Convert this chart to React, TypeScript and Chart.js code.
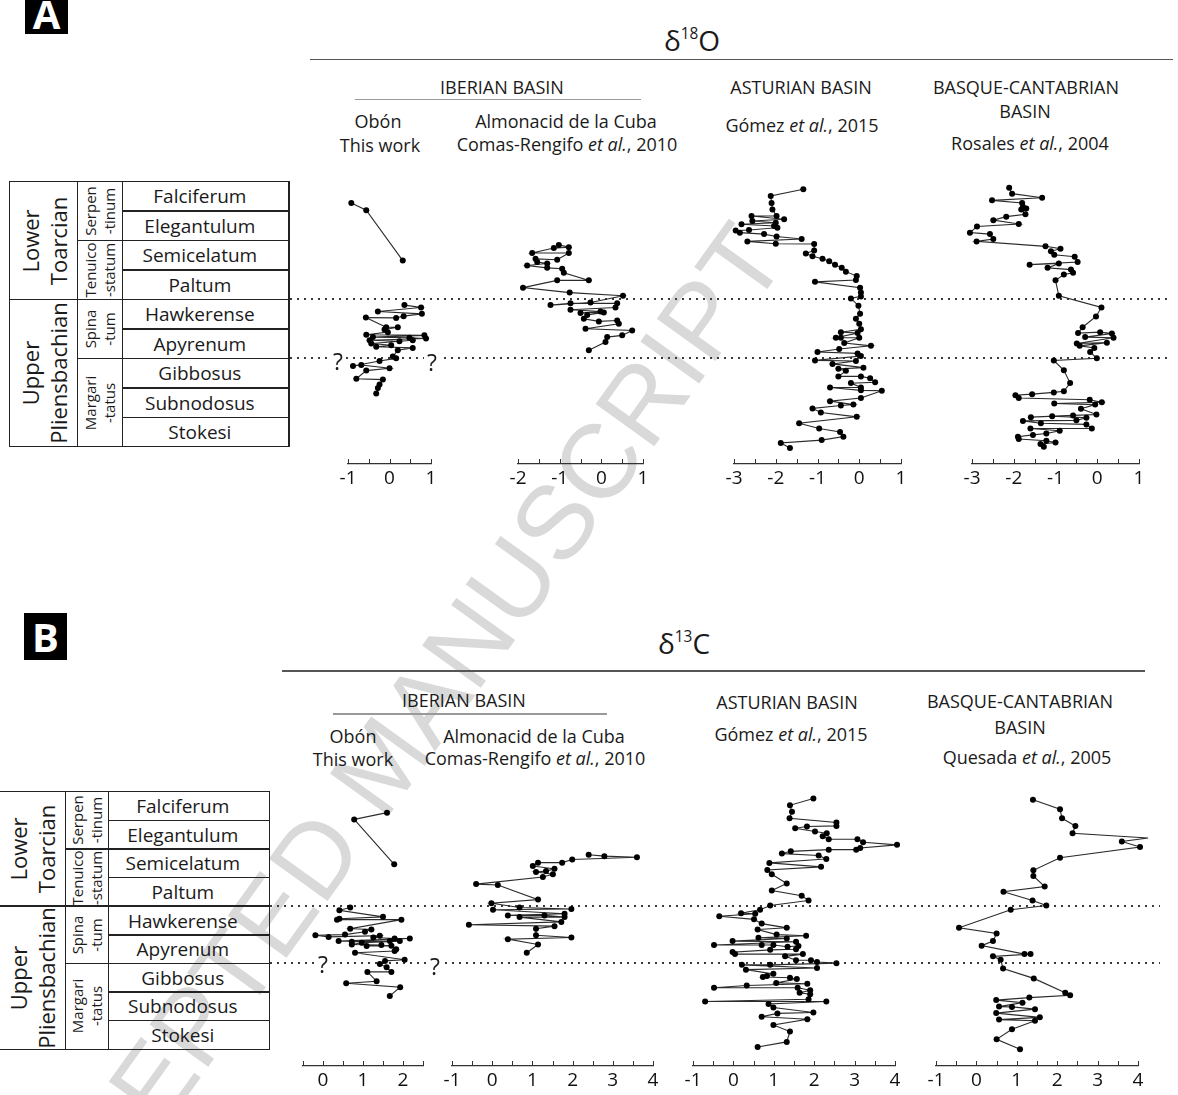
import React, { useEffect, useRef } from "react";
import { Chart, registerables } from "chart.js";

Chart.register(...registerables);

const FONT = "'Open Sans', 'Noto Sans', 'DejaVu Sans', sans-serif";

// ---------------- Data ----------------
const ZONES = ["Falciferum", "Elegantulum", "Semicelatum", "Paltum", "Hawkerense", "Apyrenum", "Gibbosus", "Subnodosus", "Stokesi"];
const SUBSTAGES = [["Serpen", "-tinum"], ["Tenuico", "-statum"], ["Spina", "-tum"], ["Margari", "-tatus"]];
const SUBSTAGE_ROWS = [[0, 2], [2, 4], [4, 6], [6, 9]];
const STAGES = [["Lower", "Toarcian"], ["Upper", "Pliensbachian"]];
const STAGE_ROWS = [[0, 4], [4, 9]];

// x-axis ranges (per mil)
const O18_OBON_RANGE = [-1, 1];
const O18_ALMONACID_RANGE = [-2, 1];
const O18_ASTURIAN_RANGE = [-3, 1];
const O18_BASQUE_RANGE = [-3, 1];
const C13_OBON_RANGE = [-0.5, 2.5];
const C13_ALMONACID_RANGE = [-1, 4];
const C13_ASTURIAN_RANGE = [-1, 4];
const C13_BASQUE_RANGE = [-1, 4];
const TICK_STEP = 0.5;

// y values are stratigraphic positions in zone units (0 = base of Stokesi, 9 = top of Falciferum)
// ---- delta 18O ----
const obonO18TopX = [-0.92, -0.56, 0.32];
const obonO18TopY = [8.4, 8.15, 6.42];
const obonO18X = [0.36, 0.76, -0.28, 0.78, 0.34, 0.16, -0.57, -0.08, 0.2, -0.12, -0.04, -0.56, 0.84, -0.4, 0.48, 0.88, -0.48, 0.24, 0.56, -0.44, 0.04, -0.32, 0.56, 0.2, 0.08, 0.16, -0.24, -0.88, -0.68, 0, -0.56, -0.8, -0.16, -0.24, -0.28, -0.32];
const obonO18Y = [4.89, 4.81, 4.67, 4.59, 4.51, 4.45, 4.46, 4.13, 4.13, 4.05, 3.96, 3.87, 3.85, 3.79, 3.77, 3.74, 3.68, 3.65, 3.68, 3.57, 3.51, 3.46, 3.42, 3.34, 3.12, 3.06, 2.97, 2.8, 2.83, 2.72, 2.64, 2.36, 2.33, 2.16, 2.04, 1.85];

const almonacidO18X = [-1.02, -0.78, -1.14, -1.66, -0.78, -1.06, -1.58, -1.54, -1.3, -1.78, -1.3, -0.94, -0.9, -0.3, -1.06, -1.88, -0.76, 0.52, -0.26, -1.22, -0.74, 0.38, 0.34, -0.74, -0.02, -0.5, 0.06, -0.34, -0.42, -0.06, 0.38, 0.42, -0.38, 0.74, 0.5, 0.14, 0.1, -0.3];
const almonacidO18Y = [6.96, 6.88, 6.85, 6.68, 6.68, 6.45, 6.48, 6.37, 6.32, 6.25, 6.17, 6.14, 6.0, 5.74, 5.74, 5.49, 5.32, 5.21, 4.98, 4.89, 4.95, 4.95, 4.81, 4.73, 4.67, 4.62, 4.64, 4.55, 4.42, 4.33, 4.36, 4.25, 4.08, 4.02, 3.85, 3.79, 3.62, 3.34];

const asturianO18X = [-1.34, -2.12, -2.1, -2.08, -1.98, -2.58, -1.8, -2.56, -2.0, -2.82, -2.04, -1.96, -2.64, -2.96, -2.86, -2.28, -1.98, -1.38, -2.68, -2.0, -1.08, -1.08, -1.28, -1.12, -0.88, -0.72, -0.58, -0.42, -0.32, -0.06, -0.08, -1.06, 0.02, 0.04, 0.04, -0.2, -0.02, 0.02, -0.08, 0.0, 0.04, -0.44, -0.04, -0.56, -0.44, 0.0, -0.36, 0.28, -0.48, -1.0, -0.04, 0.04, -1.06, -0.08, -0.64, 0.1, -0.5, -0.32, -0.5, 0.04, 0.26, 0.38, -0.2, 0.04, -0.7, 0.04, 0.54, 0.04, -0.7, -0.14, -0.44, -1.12, -0.92, -0.06, -1.44, -0.96, -0.46, -0.38, -0.9, -1.88, -1.66];
const asturianO18Y = [8.87, 8.64, 8.4, 8.18, 7.95, 7.95, 7.84, 7.78, 7.72, 7.67, 7.61, 7.55, 7.47, 7.45, 7.38, 7.33, 7.25, 7.16, 7.08, 7.0, 6.99, 6.77, 6.66, 6.57, 6.48, 6.4, 6.28, 6.17, 6.04, 5.89, 5.75, 5.69, 5.49, 5.32, 5.19, 5.12, 4.87, 4.59, 4.42, 4.25, 4.06, 3.96, 3.93, 3.77, 3.77, 3.77, 3.59, 3.49, 3.38, 3.28, 3.23, 3.14, 2.99, 2.97, 2.87, 2.74, 2.7, 2.63, 2.44, 2.44, 2.38, 2.24, 2.21, 2.06, 2.06, 1.96, 1.95, 1.7, 1.59, 1.47, 1.44, 1.34, 1.2, 1.05, 0.83, 0.65, 0.53, 0.37, 0.25, 0.15, -0.02];

const basqueO18X = [-2.11, -2.04, -1.32, -2.52, -1.8, -1.78, -1.7, -1.82, -1.72, -2.18, -2.49, -1.88, -2.88, -3.05, -2.57, -2.49, -2.89, -1.24, -0.88, -1.11, -1.03, -0.54, -0.47, -1.62, -0.92, -1.19, -0.63, -0.58, -0.8, -1.0, -0.92, 0.1, -0.03, -0.35, -0.46, 0.07, 0.35, -0.29, 0.39, -0.49, 0.23, -0.42, -0.07, -0.17, -0.01, -1.04, -0.8, -0.65, -0.8, -1.04, -1.56, -1.96, -1.88, -0.18, 0.11, -1.03, -0.05, -0.39, -0.02, -0.58, -1.59, -1.08, -0.26, -0.5, -1.78, -1.35, -0.26, -0.13, -1.6, -0.9, -1.22, -1.54, -1.9, -1.88, -1.22, -1.0, -1.36, -1.28];
const basqueO18Y = [8.92, 8.72, 8.58, 8.49, 8.4, 8.27, 8.21, 8.18, 8.01, 7.93, 7.81, 7.68, 7.59, 7.38, 7.33, 7.16, 7.08, 6.91, 6.83, 6.74, 6.62, 6.55, 6.37, 6.28, 6.32, 6.17, 6.11, 6.0, 5.94, 5.74, 5.21, 4.81, 4.5, 4.13, 3.93, 3.96, 3.91, 3.79, 3.77, 3.57, 3.6, 3.49, 3.42, 3.28, 3.06, 2.99, 2.65, 2.21, 1.93, 1.89, 1.83, 1.79, 1.7, 1.64, 1.55, 1.51, 1.47, 1.33, 1.13, 1.1, 1.04, 1.07, 1.02, 0.93, 0.91, 0.83, 0.79, 0.65, 0.65, 0.57, 0.48, 0.43, 0.37, 0.29, 0.23, 0.17, 0.12, 0.02];

// ---- delta 13C ----
const obonC13TopX = [1.6, 0.78, 1.78];
const obonC13TopY = [8.39, 8.15, 6.56];
const obonC13X = [0.68, 0.41, 1.5, 0.41, 0.35, 1.96, 0.68, 1.21, 1.05, 0.55, -0.19, 0.14, 1.42, 1.26, 1.79, 2.17, 0.39, 1.67, 0.72, 1.92, 0.97, 0.72, 1.46, 1.09, 1.71, 1.83, 1.79, 0.8, 2.04, 1.55, 1.42, 1.59, 1.71, 1.11, 1.34, 0.58, 1.93, 1.67];
const obonC13Y = [5.03, 4.93, 4.7, 4.63, 4.6, 4.6, 4.28, 4.25, 4.17, 4.07, 4.05, 3.99, 4.03, 3.97, 3.93, 3.93, 3.84, 3.84, 3.82, 3.84, 3.78, 3.72, 3.7, 3.67, 3.68, 3.55, 3.49, 3.43, 3.18, 3.14, 3.03, 2.91, 2.75, 2.75, 2.42, 2.35, 2.21, 1.9];

const almonacidC13X = [2.4, 2.79, 3.6, 1.99, 1.74, 1.14, 1.01, 1.55, 1.34, 1.09, 1.51, 1.26, -0.4, 0.14, 1.14, -0.02, 0.68, 1.97, 0.02, 1.8, 0.39, 1.3, 1.8, 0.68, 1.72, -0.58, 1.55, 1.09, 1.09, 1.97, 0.39, 1.14, 0.86];
const almonacidC13Y = [6.9, 6.85, 6.81, 6.73, 6.62, 6.62, 6.5, 6.4, 6.32, 6.29, 6.21, 6.11, 5.86, 5.83, 5.31, 5.18, 5.03, 4.98, 4.95, 4.81, 4.75, 4.75, 4.69, 4.69, 4.52, 4.42, 4.37, 4.28, 4.05, 3.97, 3.91, 3.72, 3.43];

const asturianC13X = [1.98, 1.4, 1.45, 1.39, 2.55, 2.55, 1.82, 1.53, 2.02, 2.31, 2.21, 2.36, 3.07, 3.21, 4.05, 3.14, 3.04, 2.36, 1.42, 1.2, 2.11, 2.3, 0.89, 2.17, 0.84, 0.95, 1.32, 0.95, 1.69, 1.86, 0.91, 0.66, 0.19, 0.54, -0.35, 0.51, 0.7, 1.32, 0.6, 1.07, 1.8, 0.62, 1.32, -0.02, 1.55, -0.48, 0.7, 0.99, 1.34, 1.61, 1.55, 0.91, -0.02, 0.04, 1.72, 1.28, 1.55, 1.92, 2.07, 2.55, 0.91, 0.21, 2.07, 0.31, 0.99, 0.83, 0.73, 1.4, 1.57, 1.06, 1.83, 0.33, -0.48, 1.59, 1.9, 1.64, 1.9, 1.86, -0.7, 2.3, 0.87, 0.99, 1.98, 1.09, 0.7, 1.83, 0.99, 1.4, 1.32, 0.6];
const asturianC13Y = [8.89, 8.65, 8.42, 8.19, 8.04, 7.92, 7.9, 7.84, 7.72, 7.66, 7.55, 7.45, 7.45, 7.34, 7.25, 7.14, 7.08, 7.08, 7.02, 6.94, 6.87, 6.75, 6.61, 6.47, 6.36, 6.21, 5.88, 5.63, 5.45, 5.28, 5.1, 4.95, 4.83, 4.81, 4.72, 4.61, 4.46, 4.31, 4.25, 4.07, 4.03, 3.96, 3.93, 3.84, 3.82, 3.7, 3.7, 3.7, 3.64, 3.67, 3.55, 3.53, 3.45, 3.38, 3.38, 3.3, 3.16, 3.16, 3.1, 3.06, 3.0, 3.0, 2.89, 2.83, 2.68, 2.6, 2.57, 2.54, 2.5, 2.36, 2.33, 2.27, 2.19, 2.19, 2.1, 2.01, 1.96, 1.78, 1.7, 1.7, 1.61, 1.49, 1.31, 1.28, 1.16, 1.07, 0.87, 0.64, 0.27, 0.09];

const basqueC13X = [1.4, 2.07, 2.12, 2.45, 2.38, 4.25, 3.6, 4.05, 2.07, 1.41, 1.41, 1.69, 0.67, 1.39, 1.73, 0.85, -0.43, 0.5, 0.41, 0.13, 1.19, 1.34, 0.41, 0.6, 0.66, 1.42, 2.2, 2.32, 1.31, 0.49, 1.14, 0.56, 0.88, 1.45, 0.49, 1.57, 0.56, 1.45, 0.88, 0.5, 1.08];
const basqueC13Y = [8.85, 8.51, 8.19, 7.92, 7.66, 7.49, 7.37, 7.17, 6.79, 6.35, 6.15, 5.77, 5.59, 5.28, 5.1, 4.95, 4.31, 4.11, 3.84, 3.68, 3.38, 3.38, 3.3, 3.18, 2.87, 2.52, 2.01, 1.92, 1.84, 1.75, 1.66, 1.52, 1.51, 1.43, 1.29, 1.14, 1.06, 1.02, 0.72, 0.36, 0.01];

// ---------------- Layout ----------------
const PADX = 24;
const AXIS_H = 34;

type Panel = { rowTop: number; rowBottom: number; axisY: number; chartTop: number };
type Series = { x: number[]; y: number[] };

const PANEL_A: Panel = { rowTop: 181.7, rowBottom: 446.7, axisY: 463.5, chartTop: 166 };
const PANEL_B: Panel = { rowTop: 791.7, rowBottom: 1049.3, axisY: 1066, chartTop: 772 };

const upTicks = {
  id: "upTicks",
  afterDraw(chart: any) {
    const s = chart.scales.x;
    const ctx = chart.ctx;
    ctx.save();
    ctx.strokeStyle = "#333";
    ctx.lineWidth = 1;
    s.ticks.forEach((t: any) => {
      const p = Math.round(s.getPixelForValue(t.value)) + 0.5;
      ctx.beginPath();
      ctx.moveTo(p, s.top);
      ctx.lineTo(p, s.top - 5);
      ctx.stroke();
    });
    ctx.restore();
  },
};

function PlotColumn({ panel, range, px, series }: { panel: Panel; range: number[]; px: number[]; series: Series[] }) {
  const ref = useRef<HTMLCanvasElement | null>(null);
  const rowH = (panel.rowBottom - panel.rowTop) / 9;
  const yMin = (panel.rowBottom - panel.axisY) / rowH;
  const yMax = (panel.rowBottom - panel.chartTop) / rowH;
  const left = Math.round(px[0] - PADX);
  const width = Math.round(px[1] - px[0]) + 2 * PADX;
  const height = Math.round(panel.axisY - panel.chartTop) + AXIS_H;

  useEffect(() => {
    if (!ref.current) return;
    const chart = new Chart(ref.current, {
      type: "scatter",
      data: {
        datasets: series.map((s) => ({
          data: s.x.map((x, i) => ({ x, y: s.y[i] })),
          showLine: true,
          borderColor: "#2b2b2b",
          borderWidth: 1.1,
          pointRadius: 3,
          pointBackgroundColor: "#000",
          pointBorderColor: "#000",
          pointBorderWidth: 0,
          clip: false,
        })),
      },
      options: {
        animation: false,
        responsive: false,
        events: [],
        layout: { padding: { left: PADX, right: PADX, top: 0, bottom: 0 } },
        plugins: { legend: { display: false }, tooltip: { enabled: false } },
        scales: {
          x: {
            type: "linear",
            position: "bottom",
            min: range[0],
            max: range[1],
            afterFit: (s: any) => {
              s.height = AXIS_H;
            },
            grid: { drawOnChartArea: false, drawTicks: false },
            border: { display: true, color: "#333", width: 1.2 },
            ticks: {
              stepSize: TICK_STEP,
              autoSkip: false,
              maxRotation: 0,
              padding: 3,
              color: "#111",
              font: { family: FONT, size: 19 },
              callback: (v: any) => (Number.isInteger(Number(v)) ? String(v) : ""),
            },
          },
          y: { type: "linear", display: false, min: yMin, max: yMax },
        },
      } as any,
      plugins: [upTicks],
    } as any);
    return () => chart.destroy();
  }, []);

  return (
    <canvas
      ref={ref}
      width={width}
      height={height}
      style={{ position: "absolute", left, top: panel.chartTop, width, height }}
    />
  );
}

function Txt({ x, y, size = 18, children, style }: any) {
  return (
    <div
      style={{
        position: "absolute",
        left: x,
        top: y,
        transform: "translate(-50%,-50%)",
        fontSize: size,
        lineHeight: 1,
        whiteSpace: "nowrap",
        fontFamily: FONT,
        color: "#1a1a1a",
        ...style,
      }}
    >
      {children}
    </div>
  );
}

function VText({ x, y, lines, size, lh }: any) {
  return (
    <div
      style={{
        position: "absolute",
        left: x,
        top: y,
        transform: "translate(-50%,-50%) rotate(-90deg)",
        fontSize: size,
        lineHeight: `${lh}px`,
        textAlign: "center",
        whiteSpace: "nowrap",
        fontFamily: FONT,
        color: "#1a1a1a",
      }}
    >
      {lines.map((l: string, i: number) => (
        <div key={i}>{l}</div>
      ))}
    </div>
  );
}

function HLine({ x1, x2, y, w = 1.5, color = "#222" }: any) {
  return <div style={{ position: "absolute", left: x1, top: y - w / 2, width: x2 - x1, height: w, background: color }} />;
}
function VLine({ x, y1, y2, w = 1.5, color = "#222" }: any) {
  return <div style={{ position: "absolute", left: x - w / 2, top: y1, width: w, height: y2 - y1, background: color }} />;
}

function StratTable({ left, c1, c2, right, top, bottom }: any) {
  const rowH = (bottom - top) / 9;
  const els: any[] = [];
  els.push(<HLine key="t" x1={left} x2={right} y={top} />);
  els.push(<HLine key="b" x1={left} x2={right} y={bottom} />);
  els.push(<VLine key="l" x={left} y1={top - 0.75} y2={bottom + 0.75} />);
  els.push(<VLine key="r" x={right} y1={top - 0.75} y2={bottom + 0.75} />);
  els.push(<VLine key="c1" x={c1} y1={top} y2={bottom} />);
  els.push(<VLine key="c2" x={c2} y1={top} y2={bottom} />);
  for (let i = 1; i < 9; i++) els.push(<HLine key={"z" + i} x1={c2} x2={right} y={top + i * rowH} />);
  [2, 4, 6].forEach((i) => els.push(<HLine key={"s" + i} x1={c1} x2={c2} y={top + i * rowH} />));
  els.push(<HLine key="st" x1={left} x2={c1} y={top + 4 * rowH} />);
  ZONES.forEach((z, i) =>
    els.push(
      <Txt key={"zt" + i} x={(c2 + right) / 2 - 6} y={top + (i + 0.5) * rowH} size={19}>
        {z}
      </Txt>
    )
  );
  SUBSTAGES.forEach((s, i) =>
    els.push(
      <VText key={"sst" + i} x={(c1 + c2) / 2} y={top + ((SUBSTAGE_ROWS[i][0] + SUBSTAGE_ROWS[i][1]) / 2) * rowH} lines={s} size={15} lh={19} />
    )
  );
  STAGES.forEach((s, i) =>
    els.push(
      <VText key={"stt" + i} x={(left + c1) / 2} y={top + ((STAGE_ROWS[i][0] + STAGE_ROWS[i][1]) / 2) * rowH} lines={s} size={22} lh={28} />
    )
  );
  return <>{els}</>;
}

function Dotted({ x1, x2, y }: any) {
  return (
    <div
      style={{
        position: "absolute",
        left: x1,
        top: y - 1,
        width: x2 - x1,
        height: 2,
        backgroundImage: "repeating-linear-gradient(to right, #3a3a3a 0px, #3a3a3a 2px, transparent 2px, transparent 7px)",
      }}
    />
  );
}

function Q({ x, y }: any) {
  return (
    <Txt x={x} y={y} size={23} style={{ background: "#fff", padding: "3px 3px" }}>
      ?
    </Txt>
  );
}

function PanelLetter({ letter, left, top, w, h }: any) {
  return (
    <div
      style={{
        position: "absolute",
        left,
        top,
        width: w,
        height: h,
        background: "#000",
        color: "#fff",
        fontFamily: FONT,
        fontWeight: 700,
        fontSize: 40,
        display: "flex",
        alignItems: "center",
        justifyContent: "center",
        lineHeight: 1,
      }}
    >
      {letter}
    </div>
  );
}

const Delta = ({ iso, el }: any) => (
  <span>
    δ<span style={{ fontSize: "0.55em", verticalAlign: "0.75em" }}>{iso}</span>
    {el}
  </span>
);

export default function App() {
  const rowA = (PANEL_A.rowBottom - PANEL_A.rowTop) / 9;
  const rowB = (PANEL_B.rowBottom - PANEL_B.rowTop) / 9;
  return (
    <div
      style={{
        position: "absolute",
        left: 0,
        top: 0,
        width: 1178,
        height: 1095,
        overflow: "hidden",
        background: "#fff",
        fontFamily: FONT,
      }}
    >
      {/* watermark */}
      <div
        style={{
          position: "absolute",
          left: 382,
          top: 764,
          transform: "translate(-50%,-50%) rotate(-54.3deg)",
          fontFamily: "'Liberation Sans', Arial, sans-serif",
          fontSize: 105,
          lineHeight: 1.15,
          color: "#d9d9d9",
          whiteSpace: "nowrap",
        }}
      >
        ACCEPTED MANUSCRIPT
      </div>

      {/* boundary dotted lines */}
      <Dotted x1={290} x2={1168} y={PANEL_A.rowTop + 4 * rowA} />
      <Dotted x1={290} x2={1168} y={PANEL_A.rowTop + 6 * rowA} />
      <Dotted x1={270} x2={1160} y={PANEL_B.rowTop + 4 * rowB} />
      <Dotted x1={270} x2={1160} y={PANEL_B.rowTop + 6 * rowB} />

      {/* Panel A */}
      <PanelLetter letter="A" left={25} top={-6} w={43} h={40} />
      <Txt x={692} y={40} size={28}>
        <Delta iso="18" el="O" />
      </Txt>
      <HLine x1={310} x2={1173} y={59.3} w={1.3} color="#555" />
      <Txt x={502} y={87}>IBERIAN BASIN</Txt>
      <HLine x1={355} x2={641} y={99.3} w={1.6} color="#999" />
      <Txt x={378} y={121}>Obón</Txt>
      <Txt x={380} y={145}>This work</Txt>
      <Txt x={566} y={121}>Almonacid de la Cuba</Txt>
      <Txt x={567} y={144}>
        Comas-Rengifo <i>et al.</i>, 2010
      </Txt>
      <Txt x={801} y={87}>ASTURIAN BASIN</Txt>
      <Txt x={802} y={125}>
        Gómez <i>et al.</i>, 2015
      </Txt>
      <Txt x={1026} y={87}>BASQUE-CANTABRIAN</Txt>
      <Txt x={1025} y={111}>BASIN</Txt>
      <Txt x={1030} y={143}>
        Rosales <i>et al.</i>, 2004
      </Txt>

      <StratTable left={9.3} c1={77.7} c2={122.7} right={289} top={PANEL_A.rowTop} bottom={PANEL_A.rowBottom} />

      <PlotColumn panel={PANEL_A} range={O18_OBON_RANGE} px={[348.3, 431.7]} series={[{ x: obonO18TopX, y: obonO18TopY }, { x: obonO18X, y: obonO18Y }]} />
      <PlotColumn panel={PANEL_A} range={O18_ALMONACID_RANGE} px={[518.3, 643.3]} series={[{ x: almonacidO18X, y: almonacidO18Y }]} />
      <PlotColumn panel={PANEL_A} range={O18_ASTURIAN_RANGE} px={[734.3, 901]} series={[{ x: asturianO18X, y: asturianO18Y }]} />
      <PlotColumn panel={PANEL_A} range={O18_BASQUE_RANGE} px={[971.7, 1139]} series={[{ x: basqueO18X, y: basqueO18Y }]} />

      <Q x={338} y={361} />
      <Q x={432} y={362} />

      {/* Panel B */}
      <PanelLetter letter="B" left={24} top={613} w={43} h={47} />
      <Txt x={684} y={643} size={28}>
        <Delta iso="13" el="C" />
      </Txt>
      <HLine x1={282} x2={1145} y={671} w={1.3} color="#555" />
      <Txt x={464} y={700}>IBERIAN BASIN</Txt>
      <HLine x1={332.6} x2={607} y={714} w={1.6} color="#999" />
      <Txt x={353} y={736}>Obón</Txt>
      <Txt x={353} y={759}>This work</Txt>
      <Txt x={534} y={736}>Almonacid de la Cuba</Txt>
      <Txt x={535} y={758}>
        Comas-Rengifo <i>et al.</i>, 2010
      </Txt>
      <Txt x={787} y={702}>ASTURIAN BASIN</Txt>
      <Txt x={791} y={734}>
        Gómez <i>et al.</i>, 2015
      </Txt>
      <Txt x={1020} y={701}>BASQUE-CANTABRIAN</Txt>
      <Txt x={1020} y={727}>BASIN</Txt>
      <Txt x={1027} y={757}>
        Quesada <i>et al.</i>, 2005
      </Txt>

      <StratTable left={-2} c1={65.7} c2={108.3} right={269.3} top={PANEL_B.rowTop} bottom={PANEL_B.rowBottom} />

      <PlotColumn panel={PANEL_B} range={C13_OBON_RANGE} px={[303.3, 423.3]} series={[{ x: obonC13TopX, y: obonC13TopY }, { x: obonC13X, y: obonC13Y }]} />
      <PlotColumn panel={PANEL_B} range={C13_ALMONACID_RANGE} px={[452.3, 653.3]} series={[{ x: almonacidC13X, y: almonacidC13Y }]} />
      <PlotColumn panel={PANEL_B} range={C13_ASTURIAN_RANGE} px={[693.3, 895]} series={[{ x: asturianC13X, y: asturianC13Y }]} />
      <PlotColumn panel={PANEL_B} range={C13_BASQUE_RANGE} px={[936, 1138.3]} series={[{ x: basqueC13X, y: basqueC13Y }]} />

      <Q x={323} y={964} />
      <Q x={435} y={966} />
    </div>
  );
}
